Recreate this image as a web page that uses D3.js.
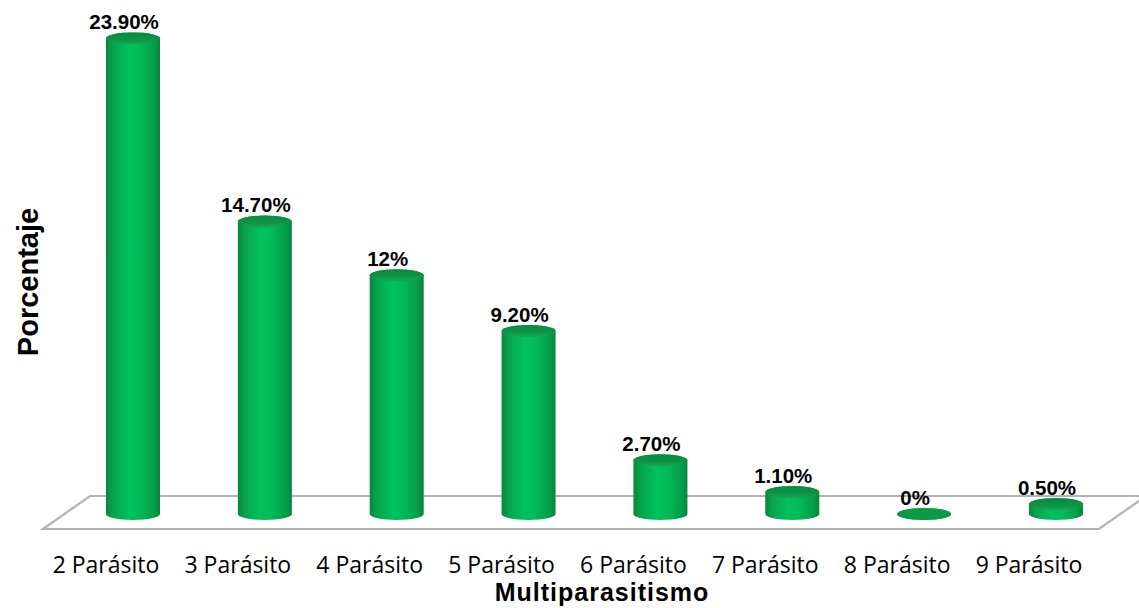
<!DOCTYPE html>
<html>
<head>
<meta charset="utf-8">
<script src="https://cdn.jsdelivr.net/npm/d3@7"></script>
<style>
  html, body { margin: 0; padding: 0; background: #ffffff; }
  svg { display: block; }
</style>
</head>
<body>
<svg id="chart" width="1139" height="608"></svg>
<script>
// Multiparasitismo: porcentaje de casos por número de parásitos
const categories = ["2 Parásito", "3 Parásito", "4 Parásito", "5 Parásito",
                    "6 Parásito", "7 Parásito", "8 Parásito", "9 Parásito"];
const values = [23.9, 14.7, 12, 9.2, 2.7, 1.1, 0, 0.5];
const valueLabels = ["23.90%", "14.70%", "12%", "9.20%", "2.70%", "1.10%", "0%", "0.50%"];
const xTitle = "Multiparasitismo";
const yTitle = "Porcentaje";

const svg = d3.select("#chart");

// Floor geometry (oblique 3D projection)
const baseY = 514;          // centre of the cylinders' base ellipses
const depthX = 47, depthY = -33;
const floorFrontY = 529;
const floorLeft = 43, floorRight = 1099;

// Category positions (front edge) and value scale
const x = d3.scalePoint().domain(categories).range([106, 1029]);
const barShift = 27;        // cylinders stand at mid-depth of the floor
const y = d3.scaleLinear().domain([0, 25]).range([baseY, baseY - 25 * 19.9]);

const rx = 27, ry = 6;

// Gradients
const defs = svg.append("defs");
const bodyGrad = defs.append("linearGradient").attr("id", "cylBody")
  .attr("x1", "0").attr("x2", "1").attr("y1", "0").attr("y2", "0");
[["0%", "#0a853c"], ["12%", "#07a24c"], ["42%", "#00c25d"], ["62%", "#01bb59"],
 ["88%", "#069e49"], ["100%", "#0a853c"]].forEach(([o, c]) =>
  bodyGrad.append("stop").attr("offset", o).attr("stop-color", c));

const capGrad = defs.append("linearGradient").attr("id", "cylTop")
  .attr("x1", "0").attr("x2", "0").attr("y1", "0").attr("y2", "1");
[["0%", "#0a8a40"], ["60%", "#0c9444"], ["100%", "#17a653"]].forEach(([o, c]) =>
  capGrad.append("stop").attr("offset", o).attr("stop-color", c));

// Floor parallelogram
const floor = d3.path();
floor.moveTo(floorLeft, floorFrontY);
floor.lineTo(floorRight, floorFrontY);
floor.lineTo(floorRight + depthX, floorFrontY + depthY);
floor.lineTo(floorLeft + depthX, floorFrontY + depthY);
floor.closePath();
svg.append("path")
  .attr("d", floor.toString())
  .attr("fill", "#ffffff")
  .attr("stroke", "#b3b3b3")
  .attr("stroke-width", 2.2)
  .attr("stroke-linejoin", "miter");

// Cylinders
const data = categories.map((c, i) => ({ c, v: values[i], label: valueLabels[i] }));
const bars = svg.append("g").selectAll("g.bar").data(data).join("g").attr("class", "bar");

bars.append("path")
  .attr("d", d => {
    const cx = x(d.c) + barShift, yt = y(d.v), yb = y(0);
    return `M${cx - rx},${yt} L${cx - rx},${yb} A${rx},${ry} 0 0 0 ${cx + rx},${yb}` +
           ` L${cx + rx},${yt} A${rx},${ry} 0 0 0 ${cx - rx},${yt} Z`;
  })
  .attr("fill", "url(#cylBody)");

bars.append("ellipse")
  .attr("cx", d => x(d.c) + barShift)
  .attr("cy", d => y(d.v))
  .attr("rx", rx)
  .attr("ry", ry)
  .attr("fill", d => d.v === 0 ? "#0c9a47" : "url(#cylTop)");

// Value labels
bars.append("text")
  .attr("x", d => x(d.c) + barShift - 9)
  .attr("y", d => y(d.v) - ry - 3)
  .attr("text-anchor", "middle")
  .attr("font-family", "'Liberation Sans', Arial, sans-serif")
  .attr("font-weight", "bold")
  .attr("font-size", 20.5)
  .attr("fill", "#000")
  .text(d => d.label);

// Category axis labels
svg.append("g").selectAll("text").data(categories).join("text")
  .attr("x", d => x(d))
  .attr("y", 573)
  .attr("text-anchor", "middle")
  .attr("font-family", "'Open Sans', sans-serif")
  .attr("font-size", 23)
  .attr("fill", "#000")
  .text(d => d);

// Axis titles
svg.append("text")
  .attr("x", 602).attr("y", 601)
  .attr("text-anchor", "middle")
  .attr("font-family", "'Liberation Sans', Arial, sans-serif")
  .attr("font-weight", "bold")
  .attr("font-size", 25)
  .attr("letter-spacing", 1)
  .attr("fill", "#000")
  .text(xTitle);

svg.append("text")
  .attr("transform", "translate(38,282) rotate(-90)")
  .attr("text-anchor", "middle")
  .attr("font-family", "'Liberation Sans', Arial, sans-serif")
  .attr("font-weight", "bold")
  .attr("font-size", 29)
  .attr("fill", "#000")
  .text(yTitle);
</script>
</body>
</html>
